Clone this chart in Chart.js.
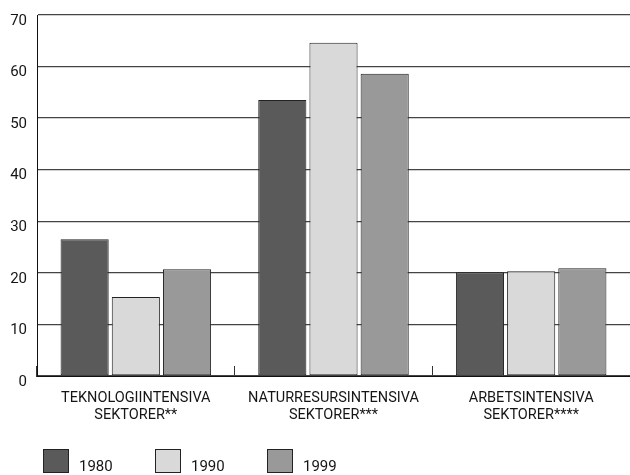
<!DOCTYPE html>
<html>
<head>
<meta charset="utf-8">
<script src="https://cdn.jsdelivr.net/npm/chart.js@4/dist/chart.umd.min.js"></script>
<style>
	html, body { margin: 0; padding: 0; background: #fff; overflow: hidden; }
	.barChart { position: relative; width: 630px; height: 475px; }
</style>
</head>
<body>
<div class="barChart">
	<canvas id="bar-chart"></canvas>
</div>
<script>
const categories = [
	['TEKNOLOGIINTENSIVA', 'SEKTORER**'],
	['NATURRESURSINTENSIVA', 'SEKTORER***'],
	['ARBETSINTENSIVA', 'SEKTORER****'],
];
const years = ['1980', '1990', '1999'];
const values1980 = [26.5, 53.5, 20.1];
const values1990 = [15.3, 64.6, 20.3];
const values1999 = [20.7, 58.6, 20.9];
const yMin = 0;
const yMax = 70;
const yStep = 10;

const colors = ['#5a5a5a', '#d9d9d9', '#999999'];
const textColor = '#151515';

// legend drawn by hand, the built-in one can't space items like the original
const boxLegend = {
	id: 'boxLegend',
	afterDraw(chart) {
		const c = chart.ctx;
		c.save();
		c.font = '15px Roboto';
		c.textBaseline = 'middle';
		c.textAlign = 'left';
		chart.data.datasets.forEach((ds, i) => {
			const x = 43 + i * 112;
			const y = 449;
			c.fillStyle = ds.backgroundColor;
			c.fillRect(x, y, 26, 24);
			c.strokeStyle = ds.borderColor;
			c.lineWidth = 1;
			c.strokeRect(x + 0.5, y + 0.5, 25, 23);
			c.fillStyle = textColor;
			c.fillText(ds.label, x + 36, y + 18);
		});
		c.restore();
	},
};

const ctx = document.getElementById('bar-chart').getContext('2d');

new Chart(ctx, {
	type: 'bar',
	data: {
		labels: categories,
		datasets: [values1980, values1990, values1999].map((vals, i) => ({
			label: years[i],
			data: vals,
			backgroundColor: colors[i],
			borderColor: '#222',
			borderWidth: 1,
			borderSkipped: false,
			barPercentage: 0.94,
			categoryPercentage: 0.777,
		})),
	},
	options: {
		responsive: true,
		maintainAspectRatio: false,
		animation: false,
		layout: {
			padding: { top: 15, right: 0, bottom: 49, left: 0 },
		},
		plugins: {
			tooltip: { enabled: false },
			legend: { display: false },
		},
		scales: {
			x: {
				grid: {
					drawOnChartArea: false,
					drawTicks: true,
					tickLength: -10,
					color: '#333',
				},
				border: { display: true, color: '#111', width: 1 },
				ticks: {
					color: textColor,
					padding: 23.5,
					maxRotation: 0,
					autoSkip: false,
					font: { family: 'Roboto', size: 14.5, lineHeight: '17px' },
				},
				afterFit: (scale) => { scale.height = 50; },
			},
			y: {
				min: yMin,
				max: yMax,
				ticks: {
					stepSize: yStep,
					color: textColor,
					padding: 10,
					labelOffset: 6,
					font: { family: 'Roboto', size: 15 },
				},
				grid: {
					color: '#444',
					lineWidth: 1.3,
					drawTicks: false,
				},
				border: { display: true, color: '#111', width: 1 },
				afterFit: (scale) => {
					scale.width = 37;
					scale.paddingTop = 0;
					scale.paddingBottom = 0;
				},
			},
		},
	},
	plugins: [boxLegend],
});
</script>
</body>
</html>
